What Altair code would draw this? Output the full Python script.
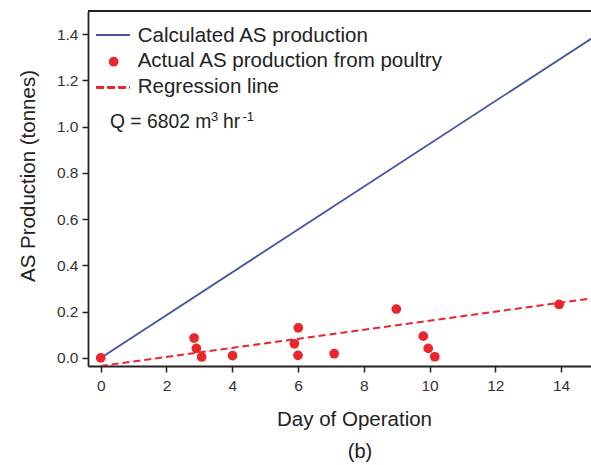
import altair as alt
import pandas as pd

# Observed ammonium sulphate production from poultry
days = [0.0, 2.84, 2.91, 3.07, 4.01, 5.89, 6.01, 6.0, 7.10, 8.99, 9.81, 9.96, 10.16, 13.94]
tonnes = [0.0, 0.086, 0.041, 0.004, 0.010, 0.061, 0.130, 0.011, 0.018, 0.211, 0.094, 0.041, 0.005, 0.231]

# Calculated production line (endpoints)
calc_days = [0.0, 15.0]
calc_tonnes = [0.0, 1.388]

# Regression line (endpoints)
reg_days = [0.0, 15.0]
reg_tonnes = [-0.035, 0.259]

x_ticks = [0, 2, 4, 6, 8, 10, 12, 14]
y_ticks = [0.0, 0.2, 0.4, 0.6, 0.8, 1.0, 1.2, 1.4]

legend_labels = ["Calculated AS production", "Actual AS production from poultry", "Regression line"]

BLUE = "#4453a6"
RED = "#e8262b"
INK = "#222222"
FONT = "Liberation Sans"
W, H = 503, 355

pts = pd.DataFrame({"day": days, "t": tonnes})
calc = pd.DataFrame({"day": calc_days, "t": calc_tonnes})
reg = pd.DataFrame({"day": reg_days, "t": reg_tonnes})

xscale = alt.Scale(domain=[-0.386, 14.91], nice=False, zero=False)
yscale = alt.Scale(domain=[-0.035, 1.5], nice=False, zero=False)

xenc = alt.X(
    "day:Q", scale=xscale,
    axis=alt.Axis(
        values=x_ticks, format="d", title="Day of Operation",
        titleX=266, titleY=59, titleBaseline="alphabetic", titleAlign="center",
        labelPadding=6,
    ),
)
yenc = alt.Y(
    "t:Q", scale=yscale,
    axis=alt.Axis(
        values=y_ticks, format=".1f", title="AS Production (tonnes)",
        titleX=-59.5, titleY=164.5, titleAngle=-90, titleBaseline="middle",
        titleAlign="center", labelPadding=4,
    ),
)

calc_line = alt.Chart(calc).mark_line(color=BLUE, strokeWidth=1.8, clip=True).encode(x=xenc, y=yenc)
reg_line = alt.Chart(reg).mark_line(color=RED, strokeWidth=2, strokeDash=[7, 4], clip=True).encode(x="day:Q", y="t:Q")
points = alt.Chart(pts).mark_circle(color=RED, size=95, opacity=1).encode(x="day:Q", y="t:Q")

# top frame edge
top_edge = alt.Chart(pts).mark_rule(color=INK, strokeWidth=1.8).encode(
    x=alt.value(0), x2=alt.value(W), y=alt.value(0)
)

# in-plot legend
leg_blue = alt.Chart(pts).mark_rule(color=BLUE, strokeWidth=1.8).encode(
    x=alt.value(8.7), x2=alt.value(42), y=alt.value(24)
)
leg_dot = alt.Chart(pd.DataFrame({"k": [0]})).mark_circle(color=RED, size=95, opacity=1).encode(
    x=alt.value(25.7), y=alt.value(50.7)
)
leg_dash = alt.Chart(pts).mark_rule(color=RED, strokeWidth=2, strokeDash=[7, 4]).encode(
    x=alt.value(8.7), x2=alt.value(42), y=alt.value(76.3)
)


def label(text, x, y, size=20.5, align="left"):
    return alt.Chart(pd.DataFrame({"k": [0]})).mark_text(
        text=text, font=FONT, fontSize=size, color=INK, align=align, baseline="alphabetic"
    ).encode(x=alt.value(x), y=alt.value(y))


texts = [
    label(legend_labels[0], 49.7, 30.5),
    label(legend_labels[1], 49.7, 55.7),
    label(legend_labels[2], 49.7, 81.7),
    # Q = 6802 m^3 hr^-1
    label("Q = 6802 m", 22, 117, size=19.3),
    label("3", 123, 110, size=13),
    label("hr", 135, 117, size=19.3),
    label("-1", 154.5, 110, size=13),
    # panel tag
    label("(b)", 272, 447, size=20, align="center"),
]

chart = alt.layer(calc_line, reg_line, points, top_edge, leg_blue, leg_dot, leg_dash, *texts).properties(
    width=W, height=H,
    autosize=alt.AutoSizeParams(type="none"),
    padding={"left": 88, "top": 11, "right": 0, "bottom": 99},
    background="white",
).configure_view(stroke=None).configure_axis(
    grid=False,
    domainColor=INK, domainWidth=1.8,
    tickColor=INK, tickWidth=1.5, tickSize=6,
    labelFont=FONT, labelFontSize=15.5, labelColor="#333333",
    titleFont=FONT, titleFontSize=20.5, titleColor=INK, titleFontWeight="normal",
)

chart.save("out.html", embed_options={"renderer": "svg", "actions": False})
